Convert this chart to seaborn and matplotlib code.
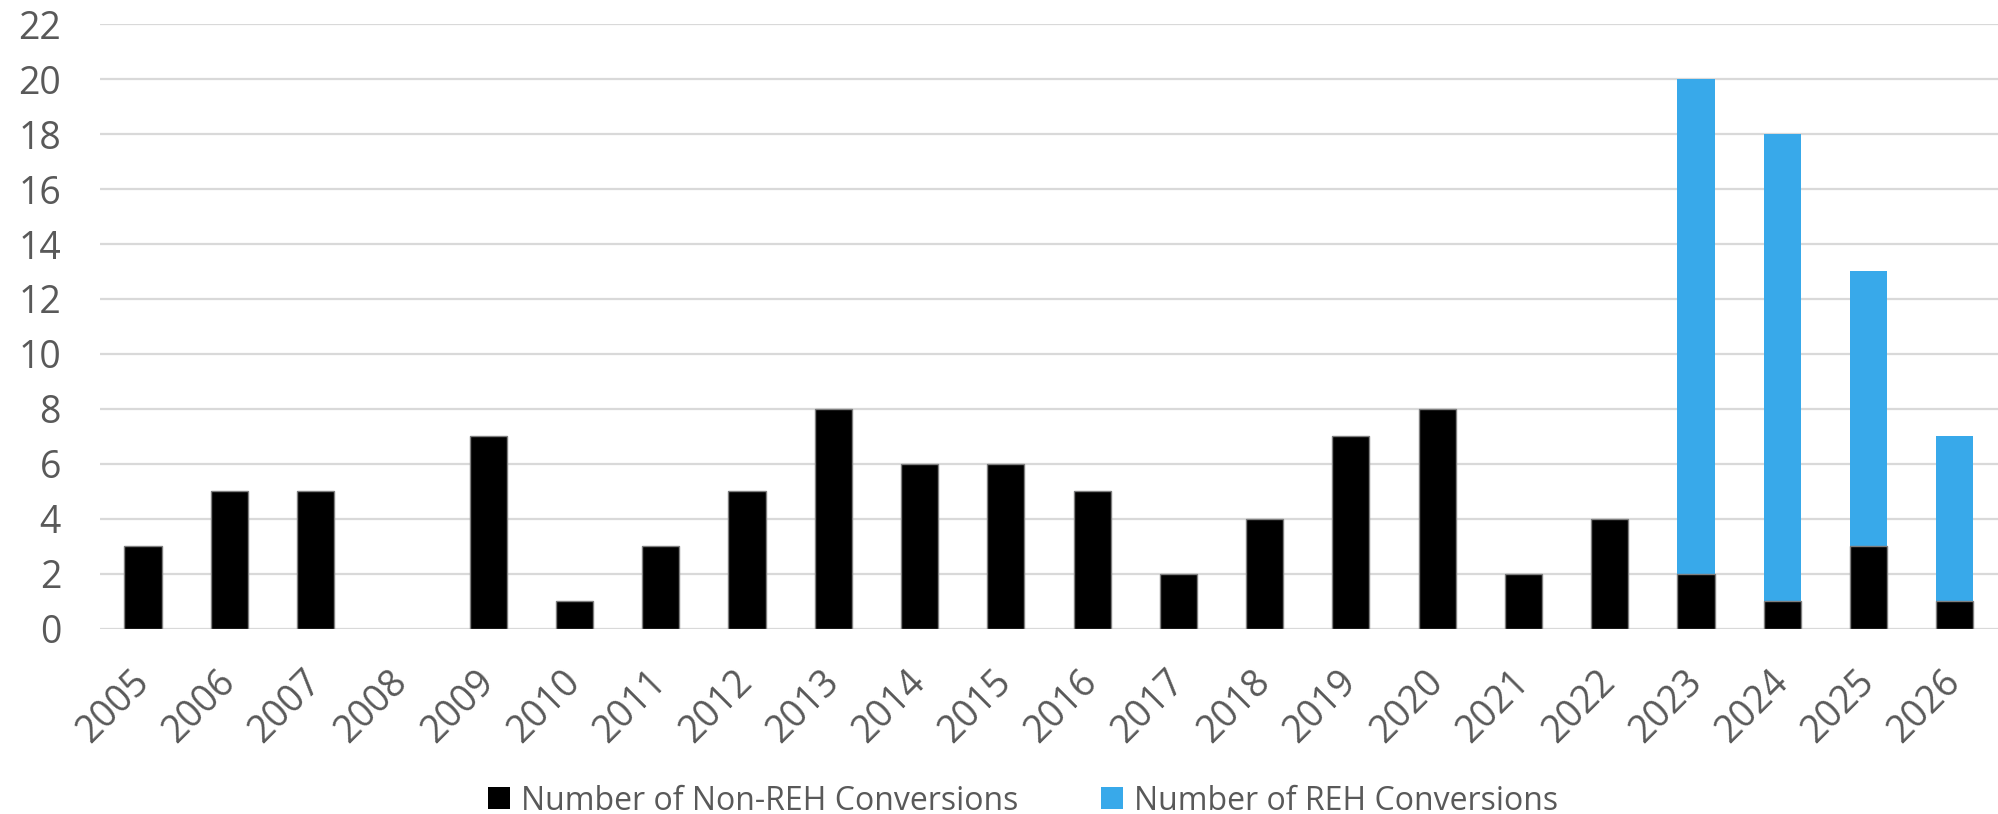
import matplotlib
matplotlib.use("Agg")
import matplotlib.pyplot as plt
import seaborn as sns
import pandas as pd
from matplotlib.patches import Patch

years = [str(y) for y in range(2005, 2027)]
non_reh = [3, 5, 5, 0, 7, 1, 3, 5, 8, 6, 6, 5, 2, 4, 7, 8, 2, 4, 2, 1, 3, 1]
reh = [0, 0, 0, 0, 0, 0, 0, 0, 0, 0, 0, 0, 0, 0, 0, 0, 0, 0, 18, 17, 10, 6]
series_labels = ["Number of Non-REH Conversions", "Number of REH Conversions"]
y_ticks = list(range(0, 23, 2))

df = pd.DataFrame({"year": years, "non_reh": non_reh, "reh": reh})
df["total"] = df["non_reh"] + df["reh"]

BLACK = "#000000"
BLUE = "#38A9EA"
TEXT = "#595959"
GRID = "#D9D9D9"

sns.set_theme(style="white")
plt.rcParams["font.family"] = ["Open Sans", "DejaVu Sans"]

fig = plt.figure(figsize=(19.98, 8.14), dpi=100)
ax = fig.add_axes([0.05, 0.2273, 0.95, 0.7432])

# stacked bars: REH sits on top of the non-REH segment
sns.barplot(data=df, x="year", y="total", color=BLUE, width=0.43,
            saturation=1, edgecolor="none", ax=ax, zorder=3)
sns.barplot(data=df, x="year", y="non_reh", color=BLACK, width=0.43,
            saturation=1, edgecolor="#7F7F7F", linewidth=1.0, ax=ax, zorder=4)

# empty years get no visible sliver
for p in ax.patches:
    if p.get_height() == 0:
        p.set_visible(False)

ax.set_ylim(0, 22)
ax.set_xlim(-0.5, len(years) - 0.5)
ax.set_yticks(y_ticks)
ax.yaxis.grid(True, color=GRID, linewidth=1.6, zorder=0)
ax.set_axisbelow(True)
for s in ax.spines.values():
    s.set_visible(False)

ax.set_xlabel("")
ax.set_ylabel("")
ax.tick_params(axis="y", length=0, pad=28, labelsize=27, labelcolor=TEXT)
ax.tick_params(axis="x", length=0, pad=34, labelsize=27, labelcolor=TEXT)
for lab in ax.get_xticklabels():
    lab.set_rotation(45)
    lab.set_ha("right")
    lab.set_va("center")
    lab.set_rotation_mode("anchor")

handles = [Patch(facecolor=BLACK, edgecolor="none"), Patch(facecolor=BLUE, edgecolor="none")]
leg = fig.legend(handles, series_labels, loc="center", bbox_to_anchor=(1023 / 1998, 1 - 801 / 814),
                 ncol=2, frameon=False, fontsize=23, handlelength=0.69, handleheight=0.69,
                 handletextpad=0.34, columnspacing=2.6, borderpad=0)
for t in leg.get_texts():
    t.set_color(TEXT)

fig.savefig("out.png", dpi=100)
